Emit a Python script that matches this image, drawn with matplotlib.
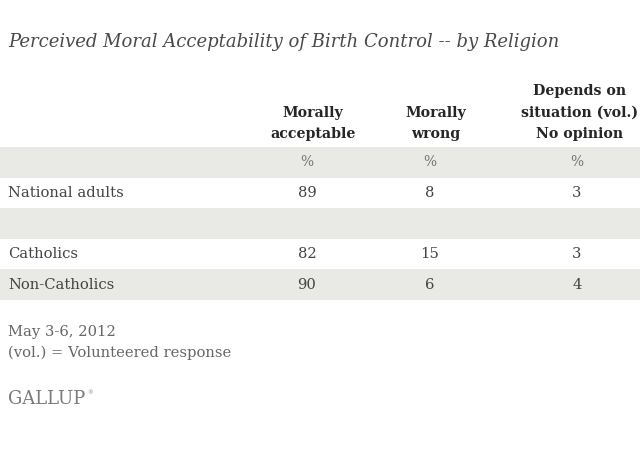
import matplotlib
matplotlib.use('Agg')
import matplotlib.pyplot as plt

# table content
title = 'Perceived Moral Acceptability of Birth Control -- by Religion'
col_headers = ['Morally\nacceptable', 'Morally\nwrong', 'Depends on\nsituation (vol.)\nNo opinion']
groups = ['National adults', '', 'Catholics', 'Non-Catholics']
acceptable = [89, None, 82, 90]
wrong = [8, None, 15, 6]
depends = [3, None, 3, 4]
notes = ['May 3-6, 2012', '(vol.) = Volunteered response']

SERIF = ['DejaVu Serif']
BAND = '#e9e9e6'
TXT = '#444444'

fig = plt.figure(figsize=(6.4, 4.68), dpi=100)
ax = fig.add_axes([0, 0, 1, 1])
ax.set_xlim(0, 640)
ax.set_ylim(468, 0)
ax.axis('off')

ax.text(8, 42, title, fontsize=13, style='italic', family=SERIF,
        color='#4a4a4a', va='center', ha='left')

col_x = [307, 430, 577]
head_x = [313, 436, 580]
row_h = 30.6
band_top = 147

# header bottom lines share a baseline
for hx, h in zip(head_x, col_headers):
    ax.text(hx, 141, h, fontsize=10.2, weight='bold', family=SERIF,
            color='#262626', ha='center', va='bottom', linespacing=1.68)

# stripes: % row, then each group row, alternating
n_rows = len(groups) + 1
for i in range(n_rows):
    if i % 2 == 0:
        ax.axhspan(band_top + i * row_h, band_top + (i + 1) * row_h,
                   color=BAND, lw=0, zorder=0)

for x in col_x:
    ax.text(x, band_top + row_h / 2, '%', fontsize=10, family=SERIF,
            color='#777777', ha='center', va='center')

for i, g in enumerate(groups):
    y = band_top + (i + 1.5) * row_h
    ax.text(8, y, g, fontsize=10.6, family=SERIF, color=TXT, va='center', ha='left')
    for x, vals in zip(col_x, [acceptable, wrong, depends]):
        if vals[i] is not None:
            ax.text(x, y, str(vals[i]), fontsize=10.6, family=SERIF,
                    color=TXT, ha='center', va='center')

for j, n in enumerate(notes):
    ax.text(8, 332 + j * 21, n, fontsize=10.6, family=SERIF, color='#666666',
            ha='left', va='center')

ax.text(8, 399, 'GALLUP', fontsize=13, family=SERIF, color='#7a7a7a',
        ha='left', va='center')
ax.text(87, 393, '\u00ae', fontsize=4, family=SERIF, color='#7a7a7a',
        ha='left', va='center')

fig.savefig('out.png', dpi=100, facecolor='white')
